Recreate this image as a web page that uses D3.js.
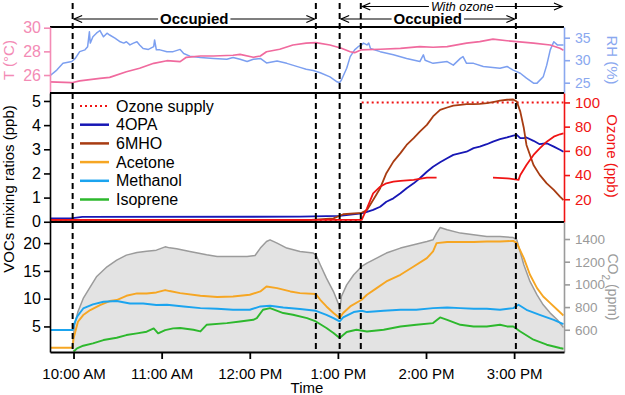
<!DOCTYPE html>
<html>
<head>
<meta charset="utf-8">
<script src="https://cdn.jsdelivr.net/npm/d3@7"></script>
<style>
    body { margin: 0; background: #fff; }
</style>
</head>
<body>
<div id="chart"></div>
<script>
// Values; times are decimal hours of the day
const hourTicks = [10, 11, 12, 13, 14, 15];
const eventHours = [9.99, 12.75, 13.02, 13.26, 15.02];
const periods = [
    ["Occupied", 9.99, 12.75],
    ["Occupied", 13.02, 15.02],
    ["With ozone", 13.26, 15.56]
];

// top panel ticks
const tempTicks = [26, 28, 30];
const rhTicks = [25, 30, 35];
// middle panel ticks
const vocTicks = [0, 1, 2, 3, 4, 5];
const ozoneTicks = [20, 40, 60, 80, 100];
// bottom panel ticks
const lowTicks = [5, 10, 15, 20];
const co2Ticks = [600, 800, 1000, 1200, 1400];

const legendLabels = ["Ozone supply", "4OPA", "6MHO", "Acetone", "Methanol", "Isoprene"];

// Temperature (°C)
const tempData = [[9.73,25.43],[9.98,25.35],[10.07,25.5],[10.30,25.72],[10.41,25.8],[10.60,26.28],[10.75,26.57],
    [10.91,26.99],[11.06,27.21],[11.21,27.13],[11.28,27.5],[11.44,27.61],[11.59,27.61],[11.81,27.67],[11.89,27.75],
    [12.04,27.5],[12.12,27.61],[12.19,27.97],[12.34,28.18],[12.49,28.54],[12.64,28.69],[12.75,28.74],[12.91,28.54],
    [13.04,28.26],[13.14,27.97],[13.19,27.89],[13.26,28.12],[13.48,28.18],[13.71,28.26],[13.93,28.4],[14.08,28.35],
    [14.24,28.4],[14.46,28.69],[14.61,28.82],[14.76,29.03],[14.92,28.9],[15.03,28.82],[15.22,28.69],[15.41,28.54],
    [15.52,28.26],[15.56,28.1]];

// Relative humidity (%)
const rhData = [[9.73,26.5],[9.81,27.8],[9.88,29.3],[9.98,29.7],[10.02,30.4],[10.07,31.9],[10.13,32.3],[10.16,33.0],
    [10.18,36.3],[10.19,33.8],[10.22,35.2],[10.26,36.0],[10.30,36.6],[10.34,35.2],[10.38,36.0],[10.41,35.6],[10.47,34.9],
    [10.53,34.1],[10.57,33.8],[10.60,34.1],[10.64,33.4],[10.68,33.8],[10.72,34.1],[10.75,33.4],[10.79,32.6],[10.85,32.4],
    [10.91,33.0],[10.92,34.5],[10.94,32.3],[10.98,32.3],[11.06,31.9],[11.13,31.9],[11.21,32.4],[11.25,31.5],[11.32,30.9],
    [11.44,30.6],[11.59,30.4],[11.74,30.2],[11.81,30.6],[11.89,30.2],[11.97,29.7],[12.04,30.2],[12.12,30.4],[12.19,29.4],
    [12.31,29.8],[12.42,29.3],[12.57,28.4],[12.64,28.0],[12.72,27.7],[12.80,27.2],[12.91,26.3],[12.99,25.2],[13.02,25.0],
    [13.04,25.6],[13.10,28.2],[13.14,30.8],[13.19,32.3],[13.23,33.0],[13.27,33.4],[13.29,33.8],[13.33,33.4],[13.35,33.8],
    [13.37,32.6],[13.48,31.9],[13.63,31.2],[13.78,30.4],[13.93,29.7],[13.97,31.2],[13.99,30.0],[14.08,29.3],[14.24,29.7],
    [14.31,28.9],[14.39,30.4],[14.42,30.8],[14.46,29.3],[14.54,29.3],[14.65,28.6],[14.84,28.2],[14.92,28.6],[14.99,27.8],
    [15.07,27.1],[15.14,26.0],[15.22,24.9],[15.26,24.9],[15.33,26.3],[15.37,28.9],[15.41,32.3],[15.45,34.1],[15.49,33.4],
    [15.56,33.4]];

// Ozone supply and measured ozone (ppb), null marks a gap
const ozoneSupply = [[9.73,2.5],[13.26,2.5],[13.265,null],[13.27,100],[15.56,100]];
const ozoneData = [[9.73,3],[12.57,3],[13.27,2.9],[13.33,12.5],[13.40,24.9],[13.48,30.4],[13.55,33.2],[13.63,34.6],
    [13.71,35.1],[13.86,36],[14.01,37.9],[14.12,37.9],[14.13,null],[14.75,null],[14.76,37.9],[14.92,37.3],[15.05,36],
    [15.07,40],[15.14,48.3],[15.22,56.6],[15.29,62.1],[15.37,67.6],[15.45,71.7],[15.52,73.7],[15.56,74.5]];

// Ozonolysis products (ppb)
const opaData = [[9.73,0.14],[9.99,0.15],[10.1,0.2],[12.57,0.21],[13.02,0.24],[13.27,0.35],[13.33,0.41],[13.40,0.49],
    [13.48,0.62],[13.55,0.83],[13.63,0.97],[13.71,1.18],[13.78,1.39],[13.86,1.59],[13.93,1.80],[14.01,2.07],[14.08,2.28],
    [14.16,2.46],[14.24,2.63],[14.31,2.77],[14.39,2.84],[14.46,2.90],[14.54,3.05],[14.61,3.11],[14.69,3.21],[14.76,3.32],
    [14.84,3.42],[14.92,3.49],[14.99,3.57],[15.03,3.60],[15.07,3.46],[15.11,3.46],[15.14,3.49],[15.22,3.35],[15.29,3.21],
    [15.37,3.25],[15.45,3.11],[15.52,2.98],[15.56,2.90]];
const mhoData = [[9.73,0.03],[12.57,0.05],[12.95,0.14],[13.06,0.31],[13.27,0.37],[13.33,0.49],[13.40,0.90],[13.48,1.39],
    [13.55,2.01],[13.63,2.49],[13.71,2.84],[13.78,3.18],[13.86,3.46],[13.93,3.73],[14.01,4.01],[14.08,4.36],[14.16,4.63],
    [14.24,4.73],[14.31,4.81],[14.39,4.84],[14.46,4.87],[14.54,4.87],[14.61,4.88],[14.69,4.91],[14.76,4.95],[14.84,5.01],
    [14.92,5.05],[14.99,5.06],[15.03,4.98],[15.07,4.56],[15.11,3.88],[15.14,3.18],[15.22,2.35],[15.29,1.94],[15.37,1.59],
    [15.45,1.32],[15.52,1.04],[15.56,0.90]];

// Occupant VOCs (ppb)
const acetoneData = [[9.73,1.17],[9.99,1.17],[10.00,2.84],[10.02,4.05],[10.05,5.85],[10.11,7.05],[10.19,7.95],[10.30,8.85],
    [10.41,9.57],[10.49,9.75],[10.60,10.52],[10.72,10.94],[10.83,10.94],[10.94,11.12],[11.04,11.55],[11.09,11.37],
    [11.21,11.0],[11.44,10.52],[11.63,10.29],[11.81,10.4],[12.00,10.7],[12.12,11.3],[12.19,12.2],[12.31,11.9],[12.46,11.3],
    [12.57,11.0],[12.75,10.83],[12.80,9.8],[12.87,8.6],[12.95,7.41],[13.02,6.51],[13.06,7.41],[13.14,8.6],[13.27,9.8],
    [13.33,10.7],[13.44,11.9],[13.55,13.1],[13.71,14.3],[13.86,15.8],[14.01,17.3],[14.08,18.5],[14.12,20.0],[14.24,20.2],
    [14.39,20.2],[14.54,20.2],[14.69,20.3],[14.84,20.3],[14.99,20.4],[15.03,20.0],[15.11,17.3],[15.18,14.3],[15.26,11.9],
    [15.33,10.4],[15.41,9.2],[15.49,8.0],[15.56,6.98]];
const methanolData = [[9.73,4.35],[9.99,4.35],[10.01,5.54],[10.04,6.74],[10.11,8.24],[10.22,8.96],[10.34,9.44],[10.49,9.57],
    [10.64,9.14],[10.79,9.14],[10.94,8.85],[11.06,8.9],[11.25,8.6],[11.44,8.3],[11.63,8.18],[11.81,8.0],[12.00,8.0],
    [12.12,8.6],[12.23,8.72],[12.38,8.42],[12.57,8.13],[12.75,7.82],[12.87,7.1],[12.95,6.51],[13.02,5.9],[13.06,6.62],
    [13.18,7.59],[13.27,7.82],[13.33,7.59],[13.52,7.82],[13.71,8.0],[13.89,8.0],[14.08,8.3],[14.24,8.42],[14.39,8.3],
    [14.54,8.18],[14.69,8.18],[14.84,8.0],[14.99,8.3],[15.05,8.9],[15.14,8.0],[15.29,7.1],[15.45,6.2],[15.56,5.43]];
const isopreneData = [[10.00,0.5],[10.02,0.75],[10.04,1.05],[10.11,1.53],[10.22,1.95],[10.34,2.55],[10.49,2.97],[10.60,3.45],
    [10.72,3.75],[10.83,4.05],[10.91,4.65],[10.96,3.75],[11.04,4.35],[11.13,4.65],[11.21,4.71],[11.36,4.41],[11.44,4.1],
    [11.51,5.3],[11.74,5.6],[11.89,5.9],[12.04,6.2],[12.08,6.5],[12.15,8.0],[12.23,8.3],[12.38,7.41],[12.49,7.1],[12.65,6.5],
    [12.75,5.9],[12.87,4.71],[12.95,3.81],[13.02,2.91],[13.10,4.0],[13.21,4.41],[13.33,4.1],[13.52,4.41],[13.71,5.0],
    [13.89,5.3],[14.08,5.6],[14.16,6.62],[14.24,6.2],[14.39,5.3],[14.54,5.0],[14.69,5.0],[14.84,5.3],[14.92,5.0],[14.99,5.0],
    [15.07,4.1],[15.22,2.61],[15.37,1.71],[15.52,1.12],[15.56,0.99]];

// CO2 (ppm)
const co2Data = [[9.99,450],[10.01,640],[10.05,759],[10.11,876],[10.19,979],[10.26,1067],[10.38,1155],[10.49,1214],
    [10.60,1258],[10.72,1281],[10.83,1293],[10.94,1302],[11.04,1331],[11.09,1322],[11.17,1314],[11.32,1290],[11.51,1261],
    [11.63,1246],[11.81,1246],[11.97,1246],[12.06,1255],[12.12,1320],[12.19,1378],[12.23,1393],[12.31,1364],[12.42,1320],
    [12.57,1290],[12.72,1276],[12.75,1261],[12.80,1173],[12.87,1055],[12.95,937],[13.01,820],[13.02,761],[13.04,893],
    [13.10,996],[13.18,1085],[13.27,1158],[13.33,1188],[13.44,1232],[13.55,1276],[13.71,1320],[13.86,1349],[14.01,1378],
    [14.08,1393],[14.12,1452],[14.16,1501],[14.24,1481],[14.39,1452],[14.54,1437],[14.69,1422],[14.84,1422],[14.99,1413],
    [15.03,1393],[15.11,1173],[15.18,1026],[15.26,908],[15.33,820],[15.41,747],[15.49,688],[15.56,620]];

// Three stacked panels sharing one time axis
class ChamberChart {
    constructor() {
        this.width = 625;
        this.height = 395;
        this.x0 = 50;
        this.x1 = 564;
        this.base = new Date(2019, 5, 1);
        this.font = '"Liberation Sans", Arial, sans-serif';

        this.colors = {
            temp: '#f06a9e', tempText: '#f38bb5',
            rh: '#7c9ff0', rhText: '#8aa8ef',
            ozone: '#f01414',
            opa: '#1717b5', mho: '#a83c12',
            acetone: '#f6a623', methanol: '#1ba4ef', isoprene: '#2db82d',
            co2: '#9b9b9b', co2Fill: '#e3e3e3', co2Text: '#9a9a9a'
        };

        this.initVis();
    }

    toDate(h) {
        return new Date(this.base.getTime() + h * 36e5);
    }

    initVis() {
        this.svg = d3.select('#chart')
            .append('svg')
            .attr('width', this.width)
            .attr('height', this.height)
            .style('font-family', this.font);

        this.x = d3.scaleTime()
            .domain([this.toDate(9.733), this.toDate(15.566)])
            .range([this.x0, this.x1]);

        this.drawTopPanel();
        this.drawMiddlePanel();
        this.drawBottomPanel();
        this.drawTimeAxis();
        this.drawEvents();
        this.drawPeriods();
    }

    // group clipped to one panel
    clip(id, top, bottom) {
        this.svg.append('clipPath').attr('id', id)
            .append('rect')
            .attr('x', this.x0).attr('y', top)
            .attr('width', this.x1 - this.x0).attr('height', bottom - top);
        return this.svg.append('g').attr('clip-path', `url(#${id})`);
    }

    addLine(g, data, y, color, width, dash) {
        const line = d3.line()
            .defined(d => d[1] !== null)
            .x(d => this.x(this.toDate(d[0])))
            .y(d => y(d[1]));
        return g.append('path')
            .datum(data)
            .attr('d', line)
            .attr('fill', 'none')
            .attr('stroke', color)
            .attr('stroke-width', width)
            .attr('stroke-linejoin', 'round')
            .attr('stroke-dasharray', dash || null);
    }

    yAxis(scale, ticks, side, color, textColor, fontSize) {
        const left = side === 'left';
        const axis = (left ? d3.axisLeft(scale) : d3.axisRight(scale))
            .tickValues(ticks)
            .tickFormat(d3.format('d'))
            .tickSize(6)
            .tickSizeOuter(0)
            .tickPadding(left ? 3 : 5);
        const g = this.svg.append('g')
            .attr('transform', `translate(${left ? this.x0 : this.x1},0)`)
            .call(axis);
        g.selectAll('path, line').attr('stroke', color).attr('stroke-width', 1.6);
        g.selectAll('text')
            .attr('fill', textColor || color)
            .style('font-size', fontSize || (left ? '16px' : '15px'))
            .style('font-family', this.font);
        return g;
    }

    yTitle(x, y, angle, color) {
        return this.svg.append('text')
            .attr('transform', `translate(${x},${y}) rotate(${angle})`)
            .attr('text-anchor', 'middle')
            .attr('dy', '0.35em')
            .attr('fill', color)
            .style('font-size', '15px');
    }

    frameLine(y) {
        this.svg.append('line')
            .attr('x1', this.x0).attr('x2', this.x1)
            .attr('y1', y).attr('y2', y)
            .attr('stroke', '#000').attr('stroke-width', 1.8);
    }

    drawTopPanel() {
        const c = this.colors;
        this.tY = d3.scaleLinear().domain([24.48, 30.06]).range([93, 27]);
        this.rhY = d3.scaleLinear().domain([22.71, 37.38]).range([93, 27]);

        const g = this.clip('clip-top', 27, 93);
        this.addLine(g, rhData, this.rhY, c.rh, 1.5);
        this.addLine(g, tempData, this.tY, c.temp, 1.7);

        this.frameLine(27);
        this.yAxis(this.tY, tempTicks, 'left', c.tempText);
        this.yAxis(this.rhY, rhTicks, 'right', c.rhText, null, '14px');

        this.yTitle(9, 60, -90, c.tempText).text('T (°C)');
        this.yTitle(612, 60, 90, c.rhText).text('RH (%)');
    }

    drawMiddlePanel() {
        const c = this.colors;
        this.vocY = d3.scaleLinear().domain([-0.01, 5.33]).range([222, 93]);
        this.o3Y = d3.scaleLinear().domain([1.2, 107.8]).range([222, 93]);

        const g = this.clip('clip-mid', 93, 222);
        this.addLine(g, ozoneSupply, this.o3Y, c.ozone, 2, '2,3');
        this.addLine(g, opaData, this.vocY, c.opa, 1.8);
        this.addLine(g, mhoData, this.vocY, c.mho, 1.8);
        this.addLine(g, ozoneData, this.o3Y, c.ozone, 1.8);

        this.frameLine(93);
        this.yAxis(this.vocY, vocTicks, 'left', '#000');
        this.yAxis(this.o3Y, ozoneTicks, 'right', c.ozone);

        this.yTitle(9, 189, -90, '#000').text('VOCs mixing ratios (ppb)');
        this.yTitle(612, 156, 90, c.ozone).text('Ozone (ppb)');

        // legend
        const legendColors = [c.ozone, c.opa, c.mho, c.acetone, c.methanol, c.isoprene];
        const rows = this.svg.append('g').selectAll('g')
            .data(legendLabels)
            .join('g')
            .attr('transform', (d, i) => `translate(80,${106 + i * 18.7})`);
        rows.append('line')
            .attr('x1', 0).attr('x2', 29)
            .attr('stroke', (d, i) => legendColors[i])
            .attr('stroke-width', (d, i) => i === 0 ? 2 : 2.5)
            .attr('stroke-dasharray', (d, i) => i === 0 ? '2,3' : null);
        rows.append('text')
            .attr('x', 36)
            .attr('dy', '0.35em')
            .style('font-size', '16px')
            .text(d => d);
    }

    drawBottomPanel() {
        const c = this.colors;
        this.lowY = d3.scaleLinear().domain([0.4, 23.8]).range([352, 222]);
        this.co2Y = d3.scaleLinear().domain([404, 1550]).range([352, 222]);

        const g = this.clip('clip-low', 222, 352);
        const area = d3.area()
            .x(d => this.x(this.toDate(d[0])))
            .y0(352)
            .y1(d => this.co2Y(d[1]));
        g.append('path').datum(co2Data).attr('d', area).attr('fill', c.co2Fill);
        this.addLine(g, co2Data, this.co2Y, c.co2, 1.5);
        this.addLine(g, acetoneData, this.lowY, c.acetone, 1.9);
        this.addLine(g, methanolData, this.lowY, c.methanol, 1.9);
        this.addLine(g, isopreneData, this.lowY, c.isoprene, 1.9);

        this.frameLine(222);
        this.yAxis(this.lowY, lowTicks, 'left', '#000');
        this.yAxis(this.co2Y, co2Ticks, 'right', c.co2, c.co2Text, '13.5px');

        const t = this.yTitle(613, 287, 90, c.co2Text).style('font-size', '14px');
        t.append('tspan').text('CO');
        t.append('tspan').attr('baseline-shift', 'sub').style('font-size', '10px').text('2');
        t.append('tspan').text(' (ppm)');
    }

    drawTimeAxis() {
        const axis = d3.axisBottom(this.x)
            .tickValues(hourTicks.map(h => this.toDate(h)))
            .tickFormat(d3.timeFormat('%-I:%M %p'))
            .tickSize(7)
            .tickSizeOuter(0)
            .tickPadding(9);
        const g = this.svg.append('g')
            .attr('transform', 'translate(0,352)')
            .call(axis);
        g.selectAll('path, line').attr('stroke', '#000').attr('stroke-width', 1.8);
        g.selectAll('text').attr('fill', '#000').style('font-size', '15px').style('font-family', this.font);

        this.svg.append('text')
            .attr('x', (this.x0 + this.x1) / 2)
            .attr('y', 393)
            .attr('text-anchor', 'middle')
            .style('font-size', '15px')
            .text('Time');
    }

    // dashed markers for door / ozone events
    drawEvents() {
        this.svg.append('g').selectAll('line')
            .data(eventHours)
            .join('line')
            .attr('x1', d => this.x(this.toDate(d)))
            .attr('x2', d => this.x(this.toDate(d)))
            .attr('y1', 3)
            .attr('y2', 352)
            .attr('stroke', '#000')
            .attr('stroke-width', 2)
            .attr('stroke-dasharray', '6,4');
    }

    // double-headed arrows above the panels
    drawPeriods() {
        periods.forEach(([label, from, to]) => {
            // the ozone period sits one row above the occupancy arrows
            const ozoneRow = label === 'With ozone';
            const y = ozoneRow ? 6.5 : 19;
            const xa = this.x(this.toDate(from)) + 1.5;
            const xb = Math.min(this.x(this.toDate(to)) - 1.5, this.x1 - 1);
            const g = this.svg.append('g');

            g.append('line')
                .attr('x1', xa).attr('x2', xb)
                .attr('y1', y).attr('y2', y)
                .attr('stroke', '#000').attr('stroke-width', 1.2);
            g.append('path')
                .attr('d', `M${xa + 8},${y - 3.5}L${xa},${y}L${xa + 8},${y + 3.5}` +
                    `M${xb - 8},${y - 3.5}L${xb},${y}L${xb - 8},${y + 3.5}`)
                .attr('fill', 'none')
                .attr('stroke', '#000')
                .attr('stroke-width', 1.2);

            const bg = g.append('rect').attr('fill', '#fff');
            const text = g.append('text')
                .attr('x', (xa + xb) / 2)
                .attr('y', y)
                .attr('dy', '0.35em')
                .attr('text-anchor', 'middle')
                .style('font-size', ozoneRow ? '12.5px' : '15px')
                .style('font-weight', ozoneRow ? 'normal' : 'bold')
                .style('font-style', ozoneRow ? 'italic' : 'normal')
                .text(label);
            const w = text.node().getComputedTextLength();
            bg.attr('x', (xa + xb) / 2 - w / 2 - 2)
                .attr('y', y - 2)
                .attr('width', w + 4)
                .attr('height', 4);
        });
    }
}

new ChamberChart();
</script>
</body>
</html>
